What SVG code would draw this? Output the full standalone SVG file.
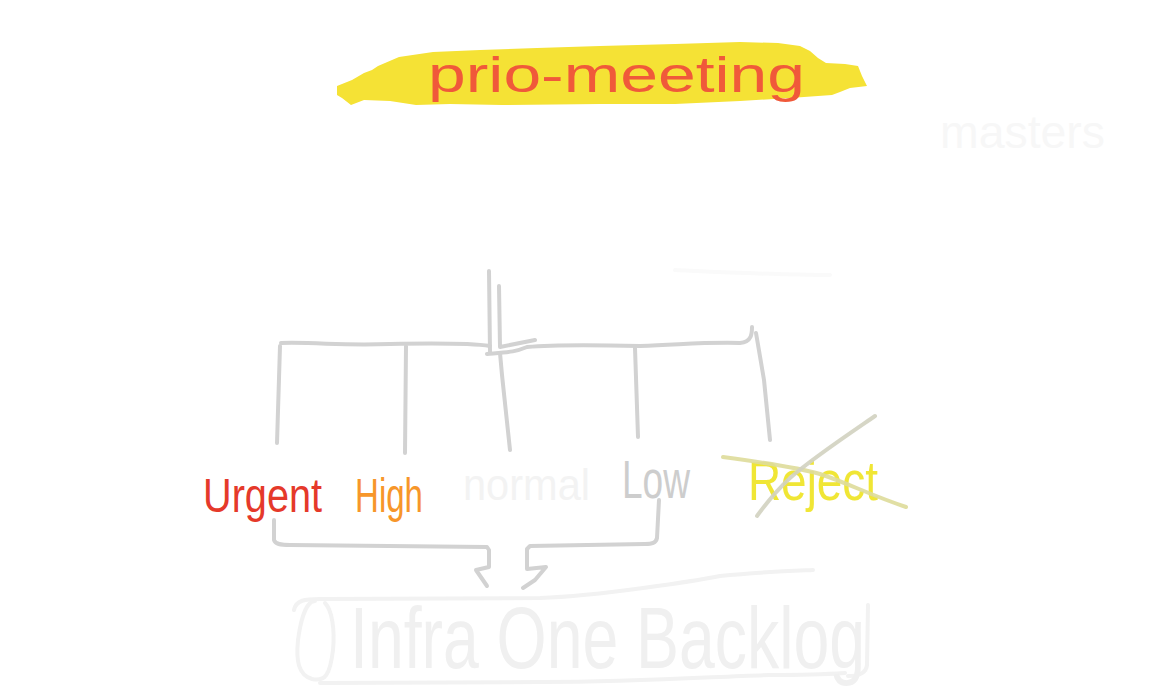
<svg xmlns="http://www.w3.org/2000/svg" width="1152" height="692" viewBox="0 0 1152 692">
<style>
.ln{fill:none;stroke:#d2d2d2;stroke-width:4;stroke-linecap:round;stroke-linejoin:round}
.faint{fill:none;stroke:#f2f2f2;stroke-width:4;stroke-linecap:round;stroke-linejoin:round}
.t{font-family:"Liberation Sans","Noto Sans",sans-serif}
</style>
<rect width="1152" height="692" fill="#ffffff"/>
<g id="title">
<path d="M337,86 L352,80 L364,73 L372,70 L378,66 L392,60 L399,57 L433,52 L480,50 L537,48 L600,46 L675,44 L740,42 L778,43 L800,46 L810,51 L818,58 L826,63 L845,64 L858,66 L862,76 L867,86 L850,88 L840,92 L832,95 L790,98 L740,101 L675,104 L600,104 L502,105 L450,104 L416,105 L390,101 L364,100 L351,105 L342,98 L337,95 Z" fill="#f5e235"/>
<text class="t" x="428" y="92" font-size="50" fill="#f0593a" textLength="377" lengthAdjust="spacingAndGlyphs">prio-meeting</text>
</g>
<g id="masters">
<text class="t" x="940" y="148" font-size="46" fill="#f7f7f7" textLength="165" lengthAdjust="spacingAndGlyphs">masters</text>
</g>
<g id="connectors">
<path class="ln" d="M489,271 L490,353"/>
<path class="ln" d="M499,286 L500,347 L535,340"/>
<path class="ln" d="M281,343 C320,342 340,346 390,344 C440,343 470,343 490,346 M487,354 C510,352 515,352 527,347 C560,344 600,345 640,346 C680,345 700,342 740,343 C752,342 752,333 752,327"/>
<path class="ln" d="M280,346 L277,443"/>
<path class="ln" d="M406,346 L405,453"/>
<path class="ln" d="M500,353 L502,375 L510,450"/>
<path class="ln" d="M635,348 L638,437"/>
<path class="ln" d="M756,333 L764,380 L770,440"/>
<path class="ln" d="M274,520 L274,540 C275,544 280,545 290,545 L487,547 L489,550 L489,567 L476,570 L487,586"/>
<path class="ln" d="M659,500 L657,538 C656,543 652,544 645,544 L530,546 L527,549 L527,569 L546,567 L535,580 L523,588"/>
<path d="M675,270 C720,272 780,275 830,275" fill="none" stroke="#fafafa" stroke-width="4" stroke-linecap="round"/>
</g>
<g id="urgent"><text class="t" x="203" y="512" font-size="48" fill="#e5392a" textLength="119" lengthAdjust="spacingAndGlyphs">Urgent</text></g>
<g id="high"><text class="t" x="355" y="512" font-size="48" fill="#f7962a" textLength="68" lengthAdjust="spacingAndGlyphs">High</text></g>
<g id="normal"><text class="t" x="463" y="500" font-size="44" fill="#f3f3f3" textLength="127" lengthAdjust="spacingAndGlyphs">normal</text></g>
<g id="low"><text class="t" x="622" y="498" font-size="54" fill="#cdcdcd" textLength="68" lengthAdjust="spacingAndGlyphs">Low</text></g>
<g id="reject">
<text class="t" x="748" y="500" font-size="56" fill="#f0e635" textLength="130" lengthAdjust="spacingAndGlyphs">Reject</text>
<path d="M723,457 C760,462 800,468 820,474 C850,484 870,495 906,507" fill="none" stroke="#dedb9a" stroke-width="4" stroke-linecap="round" opacity="0.9"/>
<path d="M875,416 C840,440 810,460 790,478 C775,492 765,505 757,516" fill="none" stroke="#d2d2c0" stroke-width="4" stroke-linecap="round" opacity="0.9"/>
</g>
<g id="backlog">
<path class="faint" d="M294,610 C296,600 305,599 320,599 L540,598 C600,596 700,580 720,576 C760,572 790,571 813,570"/>
<path class="faint" d="M315,601 C305,601 300,625 298,640 C296,660 298,675 312,679 C325,682 330,675 333,650 C335,630 332,610 325,603"/>
<path class="faint" d="M320,683 L540,682 C650,682 720,676 770,675 C810,675 830,674 845,673"/>
<path class="faint" d="M868,605 L867,665 C866,675 856,676 848,676"/>
<text class="t" x="350" y="668" font-size="88" fill="#f0f0f0" textLength="515" lengthAdjust="spacingAndGlyphs">Infra One Backlog</text>
</g>
</svg>
